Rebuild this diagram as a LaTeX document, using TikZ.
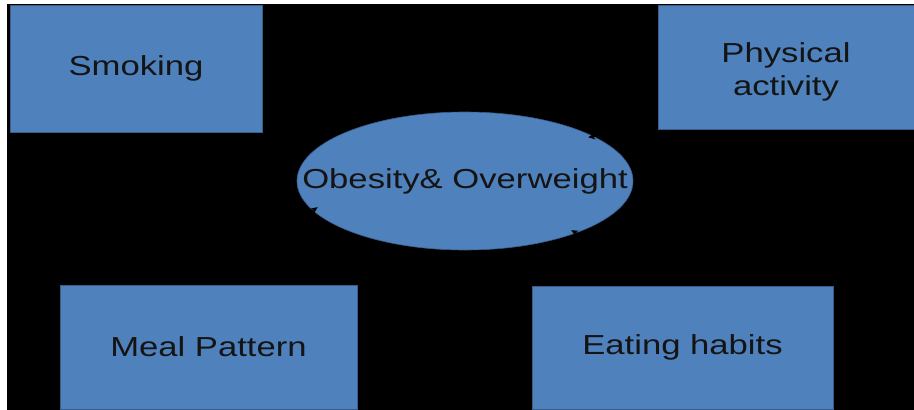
\documentclass[tikz,border=0pt]{standalone}
\usepackage{fontspec}
\newfontfamily\boxfont[FakeStretch=1.26]{Liberation Sans}
\usetikzlibrary{arrows.meta,shapes.geometric}
\definecolor{boxblue}{HTML}{4F81BD}
\definecolor{boxedge}{HTML}{385D8A}
\definecolor{txt}{HTML}{141414}
\tikzset{
  label font/.style={text=txt, font=\boxfont\fontsize{27.5}{33}\selectfont},
  factor/.style={rectangle, fill=boxblue, draw=boxedge, line width=0.8pt, inner sep=0pt,
    label font, align=center},
  core/.style={ellipse, fill=boxblue, draw=boxedge, line width=0.6pt, inner sep=0pt,
    minimum width=336, minimum height=138},
  link/.style={draw=black, line width=1pt, shorten >=-6pt, -{Stealth[length=7pt,width=6pt]}}
}
\begin{document}
\begin{tikzpicture}[x=1pt,y=-1pt]
\useasboundingbox (0,0) rectangle (914,410);
\fill[white] (0,0) rectangle (914,410);
\fill[black] (7,4) rectangle (914,410);
\node[factor, minimum width=252, minimum height=127] (smoke) at (136,68.5) {Smoking};
\node[factor, minimum width=256, minimum height=124] (phys) at (786,67) {};
\node[label font, align=center, inner sep=0pt] (physt) at ([yshift=-5pt]phys.center) {Physical\\activity};
\node[factor, minimum width=297, minimum height=124] (meal) at (208.5,347) {Meal Pattern};
\node[factor, minimum width=301, minimum height=123] (eat) at (682.5,347.5) {Eating habits};
\node[core] (ob) at (465,181) {};
\node[label font, inner sep=0pt] (obtext) at (ob) {Obesity\& Overweight};
\draw[link] (phys.south west) -- (ob.19);
\draw[link] (meal.north) -- (ob.191);
\draw[link] (eat.north) -- (ob.-25);
\end{tikzpicture}
\end{document}
